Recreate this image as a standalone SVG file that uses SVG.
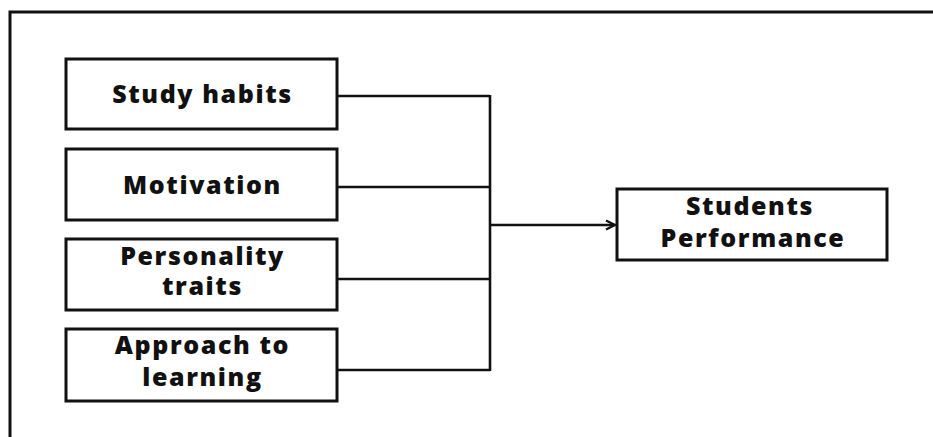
<svg xmlns="http://www.w3.org/2000/svg" width="933" height="437" viewBox="0 0 933 437">
<style>
.box{fill:#fff;stroke:#111;stroke-width:3}
.t{font-family:"Open Sans","DejaVu Sans",sans-serif;font-weight:800;font-size:25px;fill:#111;text-anchor:middle;letter-spacing:1.6px}
.c{fill:none;stroke:#111;stroke-width:2.6}
</style>
<defs>
<marker id="arr" viewBox="0 0 12 12" refX="11" refY="6" markerWidth="12" markerHeight="12" markerUnits="userSpaceOnUse" orient="auto">
<path d="M2,1.5 L11,6 L2,10.5" fill="none" stroke="#111" stroke-width="2.4"/>
</marker>
</defs>
<rect width="933" height="437" fill="#fff"/>
<rect x="10" y="12" width="940" height="440" fill="none" stroke="#111" stroke-width="3"/>
<g id="connectors">
<path class="c" d="M337,96 H490 M337,187 H490 M337,279 H490 M337,370 H490 M490,95 V371"/>
<path class="c" d="M490,225 H615" marker-end="url(#arr)"/>
</g>
<g id="study"><rect class="box" x="66" y="59" width="271" height="70"/><text class="t" x="202.5" y="103">Study habits</text></g>
<g id="motivation"><rect class="box" x="66" y="149" width="271" height="71"/><text class="t" x="202.5" y="194">Motivation</text></g>
<g id="personality"><rect class="box" x="66" y="239" width="271" height="71"/><text class="t" x="202.5" y="265">Personality</text><text class="t" x="202.5" y="295">traits</text></g>
<g id="approach"><rect class="box" x="66" y="329" width="271" height="72"/><text class="t" x="202.5" y="354">Approach  to</text><text class="t" x="202.5" y="386">learning</text></g>
<g id="performance"><rect class="box" x="617" y="189" width="270" height="71"/><text class="t" x="750" y="215">Students</text><text class="t" x="753" y="247">Performance</text></g>
</svg>
